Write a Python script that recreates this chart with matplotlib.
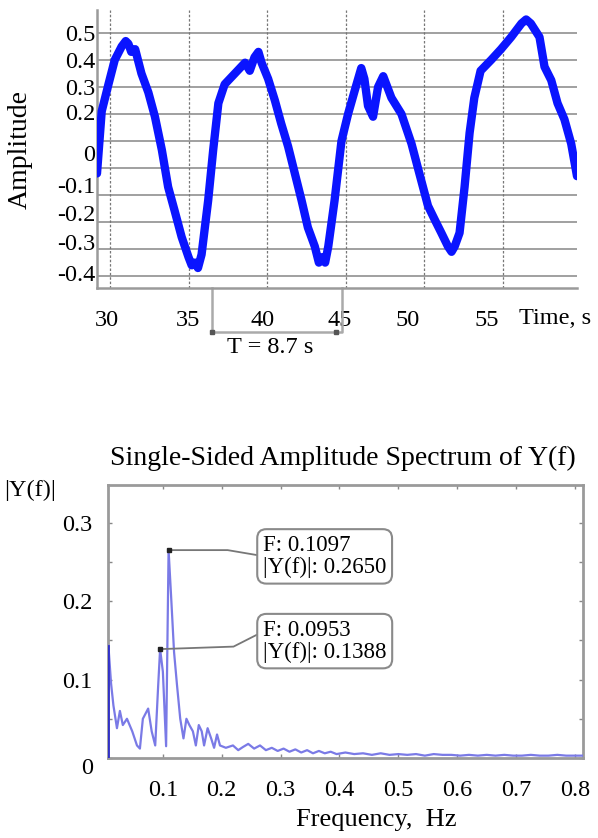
import matplotlib
matplotlib.use("Agg")
import matplotlib.pyplot as plt
from matplotlib.ticker import MultipleLocator

plt.rcParams['font.family'] = ['Liberation Serif', 'DejaVu Serif']

# ---------------- data: time signal ----------------
time_s = [29.17, 29.47, 29.9, 30.3, 30.74, 31.0, 31.17, 31.35, 31.6, 32.0,
          32.44, 32.86, 33.3, 33.7, 34.1, 34.56, 35.0, 35.2, 35.4, 35.6,
          35.83, 36.25, 36.57, 36.9, 37.3, 37.95, 38.6, 38.9, 39.2, 39.45,
          39.65, 40.07, 40.5, 40.9, 41.34, 41.77, 42.2, 42.6, 43.04, 43.3,
          43.47, 43.7, 43.9, 44.3, 44.74, 45.16, 45.6, 46.0, 46.2, 46.43,
          46.75, 47.07, 47.4, 47.92, 48.56, 49.2, 49.7, 50.25, 50.67, 51.1,
          51.52, 51.75, 51.95, 52.26, 52.58, 52.9, 53.2, 53.6, 54.27, 54.9,
          55.55, 56.2, 56.5, 56.8, 57.35, 57.67, 58.1, 58.5, 58.94, 59.37,
          59.74]
amplitude = [-0.02, 0.21, 0.31, 0.40, 0.45, 0.47, 0.46, 0.43, 0.44, 0.35,
             0.28, 0.19, 0.067, -0.07, -0.155, -0.255, -0.33, -0.36, -0.35, -0.37,
             -0.32, -0.12, 0.067, 0.24, 0.31, 0.35, 0.39, 0.36, 0.41, 0.43,
             0.39, 0.33, 0.25, 0.165, 0.08, -0.02, -0.12, -0.22, -0.29, -0.35,
             -0.33, -0.35, -0.29, -0.12, 0.10, 0.20, 0.29, 0.37, 0.33, 0.23,
             0.19, 0.30, 0.34, 0.26, 0.20, 0.09, -0.02, -0.14, -0.19, -0.24,
             -0.29, -0.31, -0.29, -0.24, -0.07, 0.13, 0.26, 0.36, 0.40, 0.44,
             0.485, 0.535, 0.55, 0.535, 0.485, 0.375, 0.325, 0.24, 0.18, 0.09,
             -0.03]

time_grid = [30, 35, 40, 45, 50, 55]
amp_grid = [0.5, 0.4, 0.3, 0.2, 0.1, 0.0, -0.1, -0.2, -0.3, -0.4]
time_label_pos = [29.8, 34.96, 39.7, 44.6, 48.96, 54.0]
time_labels = ['30', '35', '40', '45', '50', '55']
amp_label_pos = [0.5, 0.4, 0.3, 0.207, 0.056, -0.063, -0.167, -0.274, -0.389]
amp_labels = ['0.5', '0.4', '0.3', '0.2', '0', '-0.1', '-0.2', '-0.3', '-0.4']

period_start, period_end = 36.49, 44.76
period_text = 'T = 8.7 s'

# ---------------- data: spectrum ----------------
freq = [0.0075, 0.012, 0.016, 0.022, 0.027, 0.032, 0.039, 0.048, 0.056, 0.061,
        0.066, 0.075, 0.081, 0.087, 0.092, 0.0953, 0.100, 0.1055, 0.1097, 0.114,
        0.119, 0.124, 0.1295, 0.135, 0.140, 0.145, 0.151, 0.156, 0.161, 0.166,
        0.170, 0.176, 0.182, 0.187, 0.192, 0.197, 0.207, 0.219, 0.228, 0.236,
        0.245, 0.255, 0.265, 0.275, 0.285, 0.295, 0.305, 0.315, 0.325, 0.335,
        0.345, 0.355, 0.365, 0.375, 0.385, 0.395, 0.41, 0.425, 0.44, 0.455,
        0.47, 0.485, 0.50, 0.515, 0.53, 0.545, 0.56, 0.575, 0.59, 0.605,
        0.62, 0.635, 0.65, 0.665, 0.68, 0.695, 0.71, 0.725, 0.74, 0.755,
        0.77, 0.785, 0.80, 0.8136]
spectrum = [0.143, 0.095, 0.067, 0.038, 0.060, 0.042, 0.050, 0.034, 0.016, 0.012,
            0.050, 0.063, 0.034, 0.016, 0.092, 0.1388, 0.110, 0.015, 0.2650, 0.206,
            0.135, 0.093, 0.050, 0.025, 0.050, 0.042, 0.034, 0.016, 0.042, 0.034,
            0.016, 0.038, 0.025, 0.013, 0.030, 0.016, 0.013, 0.016, 0.010, 0.014,
            0.018, 0.012, 0.016, 0.010, 0.013, 0.009, 0.012, 0.008, 0.011, 0.007,
            0.010, 0.006, 0.009, 0.006, 0.008, 0.005, 0.007, 0.005, 0.006, 0.004,
            0.006, 0.004, 0.005, 0.004, 0.005, 0.003, 0.005, 0.004, 0.004, 0.003,
            0.004, 0.003, 0.004, 0.003, 0.004, 0.003, 0.003, 0.004, 0.003, 0.003,
            0.004, 0.003, 0.003, 0.003]
peak_f = [0.1097, 0.0953]
peak_y = [0.2650, 0.1388]
freq_ticks = [0.1, 0.2, 0.3, 0.4, 0.5, 0.6, 0.7, 0.8]
spec_ticks = [0, 0.1, 0.2, 0.3]

W, H = 598, 838
fig = plt.figure(figsize=(W / 100, H / 100), dpi=100)

GRAY = '#9a9a9a'
FS = 17.5

# ================= top panel =================
ax1 = fig.add_axes([97 / W, 1 - 288 / H, 480 / W, 278 / H])
ax1.set_xlim(29.17, 59.74)
ax1.set_ylim(-0.444, 0.585)
for s in ['top', 'right']:
    ax1.spines[s].set_visible(False)
for s in ['left', 'bottom']:
    ax1.spines[s].set_color(GRAY)
    ax1.spines[s].set_linewidth(1.8)

for v in amp_grid:
    ax1.axhline(v, color='#a0a0a0', lw=1.4, zorder=1)
for v in time_grid:
    ax1.axvline(v, color='#777777', lw=0.9, ls=(0, (2, 1.5)), zorder=1)

ax1.set_xticks(time_label_pos, time_labels)
ax1.set_yticks(amp_label_pos, amp_labels)
ax1.tick_params(which='both', length=0)
ax1.tick_params(axis='x', labelsize=FS, pad=16)
ax1.tick_params(axis='y', labelsize=FS, pad=1)

ax1.plot(time_s, amplitude, color='#0a14ff', lw=6, solid_joinstyle='round',
         solid_capstyle='round', zorder=3)

ax1.set_ylabel('Amplitude', fontsize=20)
ax1.yaxis.set_label_coords(-0.133, 0.5)

# period bracket
yb = -0.607
ax1.plot([period_start, period_start, period_end, period_end],
         [-0.444, yb, yb, -0.444], color='#aaaaaa', lw=1.8, clip_on=False)
ax1.plot([period_start, period_end - 0.4], [yb, yb], ls='none', marker='s',
         ms=3, color='#555555', clip_on=False)
ax1.text((period_start + period_end) / 2 - 0.4, -0.665, period_text,
         fontsize=FS, ha='center', va='center', clip_on=False)
fig.text(519 / W, 1 - 318 / H, 'Time, s', fontsize=FS, ha='left', va='center')

# ================= bottom panel =================
ax2 = fig.add_axes([108 / W, 1 - 758 / H, 475 / W, 273 / H])
ax2.set_xlim(0.0068, 0.8136)
ax2.set_ylim(0.0, 0.348)
for s in ax2.spines.values():
    s.set_color(GRAY)
    s.set_linewidth(2)
ax2.set_xticks(freq_ticks, [f'{v:.1f}' for v in freq_ticks])
ax2.set_yticks(spec_ticks, ['0', '0.1', '0.2', '0.3'])
ax2.yaxis.set_minor_locator(MultipleLocator(0.05))
ax2.tick_params(which='both', direction='in', top=True, right=True,
                color='#888888', length=3, width=1)
ax2.tick_params(axis='x', labelsize=FS, pad=16)
ax2.tick_params(axis='y', labelsize=FS, pad=11)
ax2.get_yticklabels()[0].set_va('top')

ax2.plot(freq, spectrum, color='#7a7ae6', lw=1.6, zorder=3)
ax2.plot([0.0075, 0.0075], [0, 0.143], color='#3030c8', lw=2, zorder=3)

# data tips
ax2.plot(peak_f, peak_y, ls='none', marker='s', ms=3.5, color='#222222', zorder=5)
ax2.plot([peak_f[0], 0.21, 0.265], [peak_y[0], peak_y[0], 0.258],
         color='#777777', lw=1.3, zorder=4)
ax2.plot([peak_f[1], 0.22, 0.262], [peak_y[1], 0.142, 0.158],
         color='#777777', lw=1.3, zorder=4)
box = dict(boxstyle='round,pad=0.25,rounding_size=0.4', fc='white',
           ec='#8a8a8a', lw=1.5)
ax2.text(0.27, 0.257, f'F: {peak_f[0]:.4f}\n|Y(f)|: {peak_y[0]:.4f}',
         fontsize=16.5, ha='left', va='center', bbox=box, zorder=6,
         linespacing=1.05)
ax2.text(0.27, 0.149, f'F: {peak_f[1]:.4f}\n|Y(f)|: {peak_y[1]:.4f}',
         fontsize=16.5, ha='left', va='center', bbox=box, zorder=6,
         linespacing=1.05)

fig.text(343 / W, 1 - 458 / H, 'Single-Sided Amplitude Spectrum of Y(f)',
         fontsize=20, ha='center', va='center')
fig.text(4 / W, 1 - 490 / H, '|Y(f)|', fontsize=FS, ha='left', va='center')
fig.text(376 / W, 1 - 820 / H, 'Frequency,  Hz', fontsize=19,
         ha='center', va='center')

fig.savefig('out.png', dpi=100)
